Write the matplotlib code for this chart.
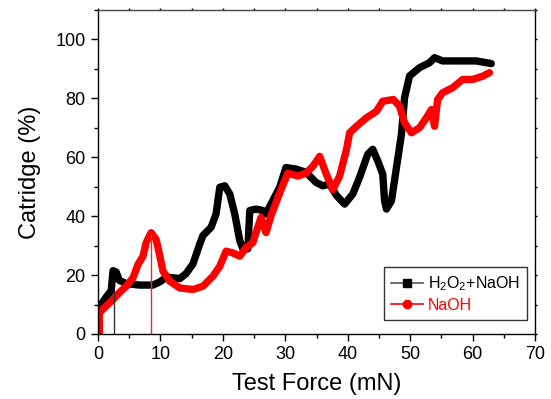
import matplotlib
matplotlib.use("Agg")
import matplotlib.pyplot as plt
from matplotlib.lines import Line2D
from matplotlib.ticker import MultipleLocator

plt.rcParams['font.family'] = ['Liberation Sans', 'DejaVu Sans']
plt.rcParams['mathtext.fontset'] = 'custom'
plt.rcParams['mathtext.rm'] = 'Liberation Sans'

# H2O2+NaOH series
h_x = [0.0, 1.3, 2.1, 2.4, 2.9, 3.4, 4.5, 6.6, 8.8, 9.9, 11.0, 13.1, 14.1, 15.2, 16.3, 16.8,
       18.1, 18.9, 19.5, 20.3, 21.1, 21.9, 22.7, 23.2, 24.0, 24.3, 25.3, 26.4, 26.9, 27.7,
       29.1, 30.1, 31.7, 33.3, 34.9, 36.0, 37.1, 38.2, 39.5, 40.8, 41.9, 43.2, 44.0, 44.8,
       45.6, 45.9, 46.2, 47.0, 47.8, 48.6, 49.1, 49.9, 51.5, 53.1, 53.9, 55.2, 57.4, 60.6,
       62.2, 63.0]
h_y = [8.5, 12.5, 14.7, 21.5, 21.0, 18.2, 17.1, 16.6, 16.6, 17.7, 19.3, 18.8, 20.5, 23.8,
       30.6, 33.4, 36.2, 40.7, 49.8, 50.3, 47.5, 40.7, 31.7, 28.9, 28.9, 41.9, 42.4, 41.9,
       40.7, 44.1, 49.8, 56.5, 56.0, 54.9, 51.5, 50.3, 50.9, 47.0, 44.1, 47.5, 53.2, 61.0,
       62.7, 58.8, 54.3, 45.2, 42.4, 45.2, 56.5, 67.8, 80.2, 87.6, 90.4, 92.1, 93.8, 92.7,
       92.7, 92.7, 92.1, 91.8]

# NaOH series
n_x = [0.2, 0.2, 1.0, 2.4, 3.4, 4.5, 5.6, 6.4, 7.2, 7.7, 8.5, 9.3, 9.9, 10.4, 11.5, 13.1,
       15.2, 16.8, 18.4, 19.5, 20.5, 21.6, 22.7, 23.7, 24.8, 25.3, 26.1, 26.9, 27.7, 29.1,
       30.4, 32.0, 33.3, 34.4, 35.5, 36.5, 37.6, 38.7, 39.8, 40.3, 41.4, 43.0, 44.6, 45.6,
       47.3, 48.3, 49.1, 50.2, 51.5, 52.6, 53.4, 53.9, 54.4, 55.2, 56.8, 58.4, 60.0, 61.6,
       62.7]
n_y = [0.0, 7.2, 8.9, 11.7, 14.0, 16.2, 19.1, 23.6, 26.4, 31.0, 34.4, 32.1, 26.4, 21.3,
       17.9, 15.6, 15.1, 16.2, 19.6, 23.0, 28.1, 27.5, 26.4, 29.3, 31.0, 34.4, 39.5, 34.4,
       40.1, 47.9, 54.6, 53.6, 54.6, 56.9, 60.3, 54.6, 49.0, 53.6, 62.7, 68.3, 70.5, 73.4,
       75.6, 79.0, 79.6, 77.3, 71.7, 68.3, 70.0, 73.4, 76.2, 70.5, 79.6, 81.9, 83.6, 86.4,
       86.4, 87.5, 88.7]

# drop lines
drop_x = [2.6, 8.4]
drop_y = [15.0, 34.0]

fig = plt.figure(figsize=(5.51, 3.99), dpi=100)
ax = fig.add_axes([0.178, 0.163, 0.793, 0.812])

ax.plot(h_x, h_y, color='black', lw=5.3, solid_joinstyle='round', solid_capstyle='round')
ax.plot(n_x, n_y, color='#ff0000', lw=5.3, solid_joinstyle='round', solid_capstyle='round')
ax.vlines(drop_x[0], 0, drop_y[0], color='#333333', lw=1)
ax.vlines(drop_x[1], 0, drop_y[1], color='#e03030', lw=1)

ax.set_xlim(0, 70)
ax.set_ylim(0, 110)
ax.xaxis.set_major_locator(MultipleLocator(10))
ax.xaxis.set_minor_locator(MultipleLocator(5))
ax.yaxis.set_major_locator(MultipleLocator(20))
ax.yaxis.set_minor_locator(MultipleLocator(10))
ax.tick_params(which='both', direction='out', labelsize=13)
ax.tick_params(which='major', length=5, width=1, pad=4)
ax.tick_params(which='minor', length=3, width=1)
# tiny ticks on top/right
ax.tick_params(axis='x', which='both', top=True, labeltop=False)
ax.tick_params(axis='y', which='both', right=True, labelright=False)
for t in ax.xaxis.get_major_ticks() + ax.xaxis.get_minor_ticks():
    t.tick2line.set_markersize(1.2)
for t in ax.yaxis.get_major_ticks() + ax.yaxis.get_minor_ticks():
    t.tick2line.set_markersize(1.2)
for s in ax.spines.values():
    s.set_linewidth(1)
ax.spines['top'].set_color('#444444')

ax.set_xlabel('Test Force (mN)', fontsize=17, labelpad=7)
ax.set_ylabel('Catridge (%)', fontsize=17, labelpad=10)

handles = [Line2D([], [], color='#555555', lw=1.2, marker='s', markersize=6,
                  markerfacecolor='black', markeredgecolor='black'),
           Line2D([], [], color='#ff0000', lw=1.2, marker='o', markersize=6,
                  markerfacecolor='#ff0000', markeredgecolor='#ff0000')]
leg = ax.legend(handles, ['H$_2$O$_2$+NaOH', 'NaOH'], loc='lower right',
                bbox_to_anchor=(0.982, 0.043), fontsize=11.5, frameon=True, fancybox=False,
                edgecolor='black', handlelength=2.0, handletextpad=0.3, borderpad=0.45,
                labelspacing=0.3, borderaxespad=0)
leg.get_frame().set_linewidth(1)
leg.get_texts()[1].set_color('#ff0000')

fig.savefig('out.png', dpi=100)
